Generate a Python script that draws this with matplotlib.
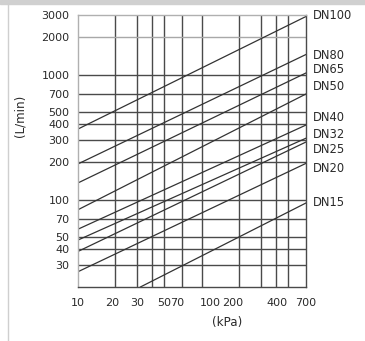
import matplotlib
matplotlib.use("Agg")
import matplotlib.pyplot as plt
import matplotlib.transforms as mtransforms
from matplotlib.patches import Rectangle
from matplotlib.lines import Line2D

# Pipe sizes, top to bottom
dn_labels = ["DN100", "DN80", "DN65", "DN50", "DN40", "DN32", "DN25", "DN20", "DN15"]

# Each line runs from (p_start, q_start) to (p_end, q_end)   [kPa, L/min]
p_start = [10, 10, 10, 10, 10, 10, 10, 10, 32]
q_start = [367, 193, 136, 83, 58, 47.5, 38.5, 26.5, 20]
p_end = [700, 700, 700, 700, 700, 700, 700, 700, 700]
q_end = [2918, 1449, 1031, 700, 395, 310, 289, 195, 94]

# Where the DN names sit on the right (L/min)
label_q = [2945, 1410, 1100, 796, 450, 329, 254, 176, 94]

# Grid and tick labels
x_grid = [20, 30, 40, 50, 70, 100, 200, 300, 400, 500]
x_tick_pos = [10, 19, 30, 50, 64, 117, 178, 405, 700]
x_tick_labels = ["10", "20", "30", "50", "70", "100", "200", "400", "700"]
y_grid = [30, 40, 50, 70, 100, 200, 300, 400, 500, 700, 1000, 2000]
y_ticks = [30, 40, 50, 70, 100, 200, 300, 400, 500, 700, 1000, 2000, 3000]

plt.rcParams['font.family'] = ['DejaVu Sans']

fig = plt.figure(figsize=(3.65, 3.41), dpi=100)
ax = fig.add_axes([0.2137, 0.1584, 0.6247, 0.7977])
ax.set_xscale("log")
ax.set_yscale("log")
ax.set_xlim(10, 700)
ax.set_ylim(20, 3000)

# grid lines
for x in x_grid:
    ax.axvline(x, color="#4a4a4a", lw=1.0, zorder=1)
for y in y_grid:
    c = "#a8a8a8" if y == 2000 else "#4a4a4a"
    ax.axhline(y, color=c, lw=1.0, zorder=1)

# flow lines
for i in range(len(dn_labels)):
    ax.plot([p_start[i], p_end[i]], [q_start[i], q_end[i]],
            color="#333333", lw=0.9, zorder=2)

# DN names on the right
trans = mtransforms.blended_transform_factory(ax.transAxes, ax.transData)
for name, q in zip(dn_labels, label_q):
    ax.text(1.03, q, name, transform=trans, ha="left", va="center",
            fontsize=8.3, color="#2a2a2a", clip_on=False)

ax.xaxis.set_minor_locator(matplotlib.ticker.NullLocator())
ax.yaxis.set_minor_locator(matplotlib.ticker.NullLocator())
ax.set_xticks(x_tick_pos)
ax.set_xticklabels(x_tick_labels)
ax.set_yticks(y_ticks)
ax.set_yticklabels([str(v) for v in y_ticks])
ax.tick_params(axis="both", length=0, labelsize=8, colors="#2a2a2a")
ax.tick_params(axis="x", pad=8)
ax.tick_params(axis="y", pad=6)

for side in ["top", "left"]:
    ax.spines[side].set_color("#b0b0b0")
for side in ["bottom", "right"]:
    ax.spines[side].set_color("#4a4a4a")
for s in ax.spines.values():
    s.set_linewidth(1.0)

fig.text(0.055, 0.66, "(L/min)", rotation=90, ha="center", va="center",
         fontsize=8.6, color="#2a2a2a")
fig.text(0.622, 0.053, "(kPa)", ha="center", va="center",
         fontsize=8.6, color="#2a2a2a")

# light frame of the original picture
fig.patches.append(Rectangle((0, 0.988), 1, 0.012, transform=fig.transFigure,
                             color="#d0d0d0", zorder=0))
fig.lines.append(Line2D([0.022, 0.022], [0, 0.988], transform=fig.transFigure,
                        color="#cfcfcf", lw=1.0))

fig.savefig("out.png", dpi=100)
